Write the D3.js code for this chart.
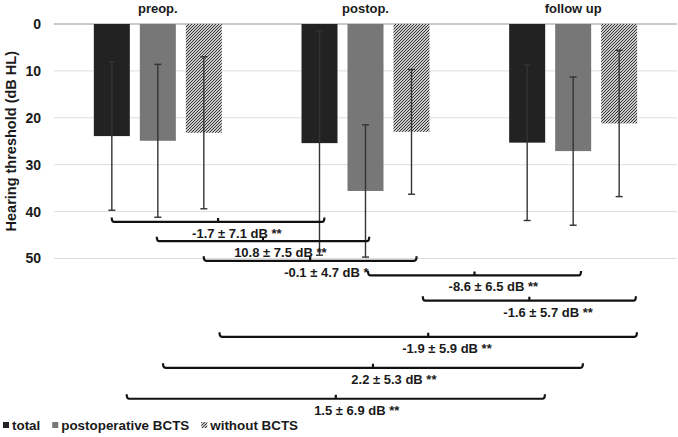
<!DOCTYPE html>
<html>
<head>
<meta charset="utf-8">
<script src="https://cdn.jsdelivr.net/npm/d3@7"></script>
<style>
  html, body { margin: 0; padding: 0; background: #fff; }
  svg { display: block; font-family: "Liberation Sans", Arial, sans-serif; }
</style>
</head>
<body>
<svg id="chart" width="678" height="437"></svg>
<script>
// ---- data ----
const groups = ["preop.", "postop.", "follow up"];
const seriesNames = ["total", "postoperative BCTS", "without BCTS"];
const totalMeans = [23.9, 25.4, 25.3];
const totalSD = [15.8, 23.9, 16.6];
const bctsMeans = [24.9, 35.6, 27.1];
const bctsSD = [16.3, 14.1, 15.8];
const withoutMeans = [23.2, 23.0, 21.2];
const withoutSD = [16.2, 13.3, 15.6];
const yTicks = [0, 10, 20, 30, 40, 50];

// comparison brackets: ends in group units (0 = preop centre), level in dB HL units
const bracketLabels = ["-1.7 ± 7.1 dB **", "10.8 ± 7.5 dB **", "-0.1 ± 4.7 dB *", "-8.6 ± 6.5 dB **",
                       "-1.6 ± 5.7 dB **", "-1.9 ± 5.9 dB **", "2.2 ± 5.3 dB **", "1.5 ± 6.9 dB **"];
const bracketFrom = [-0.222, -0.005, 0.221, 1.012, 1.276, 0.297, 0.025, -0.150];
const bracketTo   = [0.802, 1.018, 1.246, 2.038, 2.302, 2.307, 2.047, 1.864];
const bracketLevel = [42.2, 46.3, 50.5, 53.6, 59.0, 66.7, 73.3, 79.9];

const means = [totalMeans, bctsMeans, withoutMeans];
const sds = [totalSD, bctsSD, withoutSD];
const colors = ["#222222", "#777777", "url(#hatch)"];

// ---- chart ----
const svg = d3.select("#chart");
const textColor = "#1a1a1a";
const fw = "bold";

const defs = svg.append("defs");
const pat = defs.append("pattern").attr("id", "hatch").attr("patternUnits", "userSpaceOnUse")
  .attr("width", 3).attr("height", 3);
pat.append("rect").attr("width", 3).attr("height", 3).attr("fill", "#c9c9c9");
pat.append("path").attr("d", "M-1,1 l2,-2 M0,3 l3,-3 M2,4 l2,-2")
  .attr("stroke", "#363636").attr("stroke-width", 1);

const x0 = d3.scaleBand().domain(groups).range([54, 677]).padding(0);
const x1 = d3.scaleBand().domain(seriesNames)
  .range([x0.bandwidth() / 2 - 64, x0.bandwidth() / 2 + 64]).paddingInner(10 / 46);
const y = d3.scaleLinear().domain([0, 50]).range([24, 258.5]);
const gpos = v => x0(groups[0]) + x0.bandwidth() / 2 + v * x0.step();

// gridlines
const grid = svg.append("g");
grid.selectAll("line").data(yTicks).join("line")
  .attr("x1", x0.range()[0]).attr("x2", x0.range()[1])
  .attr("y1", d => y(d)).attr("y2", d => y(d))
  .attr("stroke", d => d === 0 ? "#b8b8b8" : "#dddddd")
  .attr("stroke-width", d => d === 0 ? 1.5 : 1);

// y axis labels
const yAxis = d3.axisLeft(y).tickValues(yTicks).tickSize(0).tickPadding(13);
const ya = svg.append("g").attr("transform", "translate(54,0)").call(yAxis);
ya.select(".domain").remove();
ya.selectAll("text").attr("font-size", 14).attr("font-weight", fw).attr("fill", textColor)
  .attr("font-family", "Liberation Sans, Arial, sans-serif");

svg.append("text")
  .attr("transform", `translate(16,${(y(0) + y(50)) / 2}) rotate(-90)`)
  .attr("text-anchor", "middle").attr("font-size", 14.5).attr("font-weight", fw).attr("fill", textColor)
  .text("Hearing threshold (dB HL)");

// group labels (top)
svg.append("g").selectAll("text").data(groups).join("text")
  .attr("x", d => x0(d) + x0.bandwidth() / 2).attr("y", 13)
  .attr("text-anchor", "middle").attr("font-size", 13).attr("font-weight", fw).attr("fill", textColor)
  .text(d => d);

// bars
const barData = [];
groups.forEach((g, gi) => seriesNames.forEach((s, si) => {
  barData.push({ g, s, si, mean: means[si][gi], sd: sds[si][gi] });
}));
const bx = d => x0(d.g) + x1(d.s);
svg.append("g").selectAll("rect").data(barData).join("rect")
  .attr("x", bx).attr("width", x1.bandwidth())
  .attr("y", y(0)).attr("height", d => y(d.mean) - y(0))
  .attr("fill", d => colors[d.si]);

// error bars
const eb = svg.append("g").attr("stroke", "#333").attr("stroke-width", 1.4).attr("fill", "none");
barData.forEach(d => {
  const cx = bx(d) + x1.bandwidth() / 2;
  const top = y(d.mean - d.sd), bot = y(d.mean + d.sd);
  eb.append("line").attr("x1", cx).attr("x2", cx).attr("y1", top).attr("y2", bot);
  eb.append("line").attr("x1", cx - 3.5).attr("x2", cx + 3.5).attr("y1", top).attr("y2", top);
  eb.append("line").attr("x1", cx - 3.5).attr("x2", cx + 3.5).attr("y1", bot).attr("y2", bot);
});

// brackets
const br = svg.append("g");
const measure = svg.append("text").attr("font-size", 13).attr("font-weight", fw).attr("visibility", "hidden");
bracketLabels.forEach((lab, i) => {
  const xa = gpos(bracketFrom[i]), xb = gpos(bracketTo[i]), yy = y(bracketLevel[i]);
  const mid = (xa + xb) / 2;
  const h = 4.5, r = 2.5;
  br.append("path")
    .attr("d", `M${xa},${yy - h} Q${xa},${yy} ${xa + r},${yy} L${xb - r},${yy} Q${xb},${yy} ${xb},${yy - h} M${mid},${yy} L${mid},${yy - 4}`)
    .attr("fill", "none").attr("stroke", "#111").attr("stroke-width", 2.2);
  const pre = lab.slice(0, lab.indexOf("±"));
  measure.text(pre);
  const preW = measure.node().getComputedTextLength();
  measure.text("±");
  const pmW = measure.node().getComputedTextLength();
  br.append("text").attr("x", mid - preW - pmW / 2).attr("y", yy + 16)
    .attr("font-size", 13).attr("font-weight", fw).attr("fill", textColor).text(lab);
});
measure.remove();

// legend
const lg = svg.append("g");
let lx = 3;
seriesNames.forEach((s, i) => {
  lg.append("rect").attr("x", lx).attr("y", 422).attr("width", 6).attr("height", 6).attr("fill", colors[i]);
  const t = lg.append("text").attr("x", lx + 9).attr("y", 430).attr("font-size", 13.4).attr("font-weight", fw)
    .attr("fill", textColor).text(s);
  lx += 9 + t.node().getComputedTextLength() + 12;
});
</script>
</body>
</html>
